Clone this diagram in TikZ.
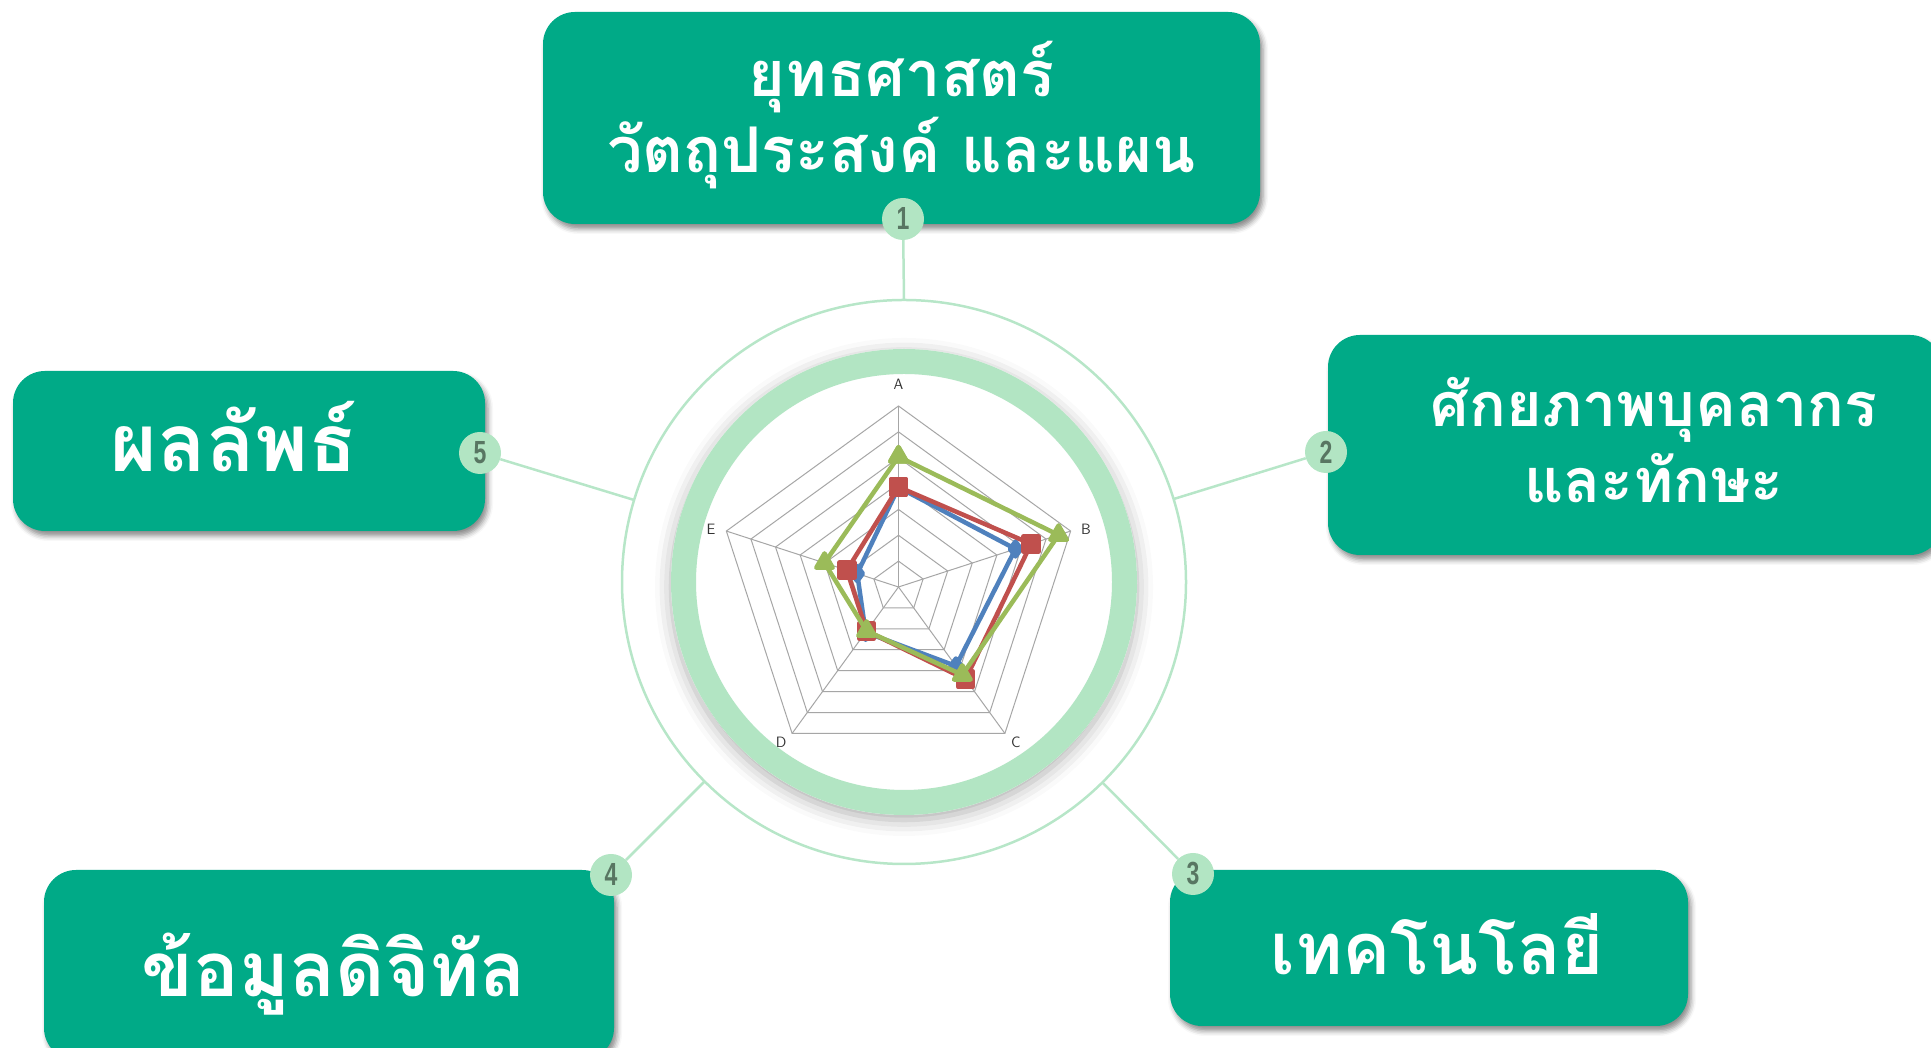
\documentclass[tikz,border=0pt]{standalone}
\usepackage{fontspec}
\newfontfamily\thaifont[Script=Thai]{Loma}
\newfontfamily\numfont[FakeStretch=0.72]{Liberation Sans}
\usetikzlibrary{shapes.geometric,shadows.blur,calc,plotmarks}

\definecolor{boxgreen}{RGB}{0,170,135}
\definecolor{mint}{RGB}{178,229,195}
\definecolor{linkgreen}{RGB}{183,230,200}
\definecolor{numgray}{RGB}{88,118,98}
\definecolor{seriesblue}{RGB}{79,129,189}
\definecolor{seriesred}{RGB}{192,80,77}
\definecolor{seriesgreen}{RGB}{155,187,89}

\begin{document}
\begin{tikzpicture}[x=1pt,y=1pt,
  topic/.style={rectangle,rounded corners=32pt,fill=boxgreen,inner sep=0pt,
    blur shadow={shadow xshift=3pt,shadow yshift=-5pt,shadow blur radius=5pt,shadow opacity=45}},
  topictext/.style={text=white,font=\thaifont\bfseries\fontsize{#1}{76}\selectfont,anchor=base,align=center},
  num/.style={circle,fill=mint,minimum size=42pt,inner sep=0pt,text=numgray,
    font=\numfont\bfseries\fontsize{32}{32}\selectfont},
  link/.style={draw=linkgreen,line width=2.5pt},
  grid/.style={draw=black!35,line width=1pt},
  axis/.style={font=\sffamily\fontsize{15}{15}\selectfont,text=black!80},
  series/.style={line width=4.5pt,line join=round,mark options={solid}},
]
\useasboundingbox (0,0) rectangle (1931,1048);

  % centre
  \coordinate (c) at (904,466);
  \draw[link] (c) circle (282);
  \fill[white,blur shadow={shadow xshift=0pt,shadow yshift=-5pt,shadow blur radius=16pt,shadow opacity=32}] (c) circle (233);
  \draw[mint,line width=25pt] (c) circle (220.5);

  % radar
  \begin{scope}[shift={(898.5,461)}]
    \foreach \k in {1,...,7}
      \draw[grid] (90:\k*25.857) -- (18:\k*25.857) -- (-54:\k*25.857) -- (-126:\k*25.857) -- (162:\k*25.857) -- cycle;
    \foreach \a in {90,18,-54,-126,162}
      \draw[grid] (0,0) -- (\a:181);
    \node[axis] (lA) at (90:203) {A};
    \node[axis] (lB) at (17:196) {B};
    \node[axis] (lC) at (-53:195) {C};
    \node[axis] (lD) at (-127:195) {D};
    \node[axis] (lE) at (163:196) {E};

    \draw[series,seriesblue] plot[mark=diamond*,mark size=7.5pt] coordinates
      {(90:99.6) (18:123) (-54:97.7) (-126:56) (162:43.4) (90:99.6)};
    \draw[series,seriesred] plot[mark=square*,mark size=7.5pt] coordinates
      {(90:100) (18:139.4) (-54:114) (-126:54.3) (162:54.3) (90:100)};
    \draw[series,seriesgreen] plot[mark=triangle*,mark size=9.5pt] coordinates
      {(90:130.3) (18:168.3) (-54:108.6) (-126:54.3) (162:77.8) (90:130.3)};
  \end{scope}

  % boxes
  \node[topic,minimum width=717pt,minimum height=212pt] (strat) at (901.5,930) {};
  \node[topic,minimum width=614pt,minimum height=220pt] (staff) at (1635,603) {};
  \node[topic,minimum width=518pt,minimum height=156pt] (tech) at (1429,100) {};
  \node[topic,minimum width=570pt,minimum height=190pt] (data) at (329,83) {};
  \node[topic,minimum width=472pt,minimum height=160pt] (result) at (249,597) {};

  \node[topictext=63] (strattext) at (901.5,875) {ยุทธศาสตร์\\วัตถุประสงค์ และแผน};
  \node[topictext=61] (stafftext) at (1654,545) {ศักยภาพบุคลากร\\และทักษะ};
  \node[topictext=72] (techtext) at (1437,73) {เทคโนโลยี};
  \node[topictext=76] (datatext) at (334,51) {ข้อมูลดิจิทัล};
  \node[topictext=80] (resulttext) at (234,576) {ผลลัพธ์};

  % numbers
  \node[num] (n1) at (903,829) {1};
  \node[num] (n2) at (1326,596) {2};
  \node[num] (n3) at (1193,174) {3};
  \node[num] (n4) at (611,173) {4};
  \node[num] (n5) at (480,595) {5};

  \coordinate (o1) at ($(c)+(90:282)$);
  \coordinate (o2) at ($(c)+(17.1:282)$);
  \coordinate (o3) at ($(c)+(-45.3:282)$);
  \coordinate (o4) at ($(c)+(-135:282)$);
  \coordinate (o5) at ($(c)+(163.1:282)$);
  \foreach \i in {1,...,5}
    \draw[link] (n\i) -- (o\i);

\end{tikzpicture}
\end{document}
